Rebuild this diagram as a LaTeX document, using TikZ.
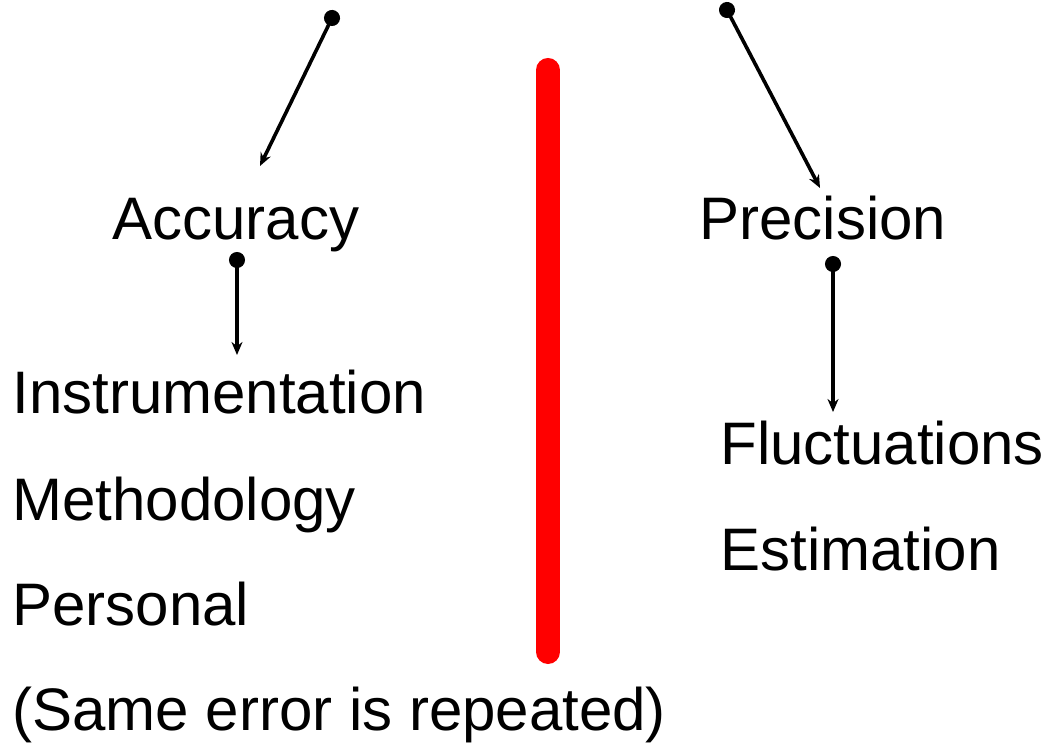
\documentclass[tikz,border=0pt]{standalone}
\usepackage{fontspec}
\setmainfont{Liberation Sans}
\usetikzlibrary{arrows.meta}

\tikzset{
  word/.style={anchor=base west,inner sep=0pt,font=\fontsize{30}{36}\selectfont},
  conn/.style={line width=1.8pt,{Circle[length=8pt]}-{Stealth[length=6.5pt,width=5.5pt]},shorten <=-4pt}
}

\begin{document}
\begin{tikzpicture}[x=0.5pt,y=-0.5pt]
\useasboundingbox (0,0) rectangle (1047,747);
\node[word] (acc) at (112,240) {Accuracy};
\node[word] (prec) at (699,240) {Precision};
\node[word] (instr) at (12,414) {Instrumentation};
\node[word] (meth) at (12,520) {Methodology};
\node[word] (pers) at (12,625) {Personal};
\node[word] (same) at (12,730) {(Same error is repeated)};
\node[word] (fluc) at (720,465) {Fluctuations};
\node[word] (est) at (720,570) {Estimation};
\coordinate (sysdot) at (332,18);
\coordinate (randot) at (727,10);
\coordinate (accdot) at (237,260);
\coordinate (precdot) at (833,264);
\coordinate (acctip) at (260,166);
\coordinate (prectip) at (820,188);
\coordinate (instrtip) at (237,355);
\coordinate (fluctip) at (833,412);
\draw[conn] (sysdot) -- (acctip);
\draw[conn] (randot) -- (prectip);
\draw[conn] (accdot) -- (instrtip);
\draw[conn] (precdot) -- (fluctip);
\coordinate (bartop) at (548,70);
\coordinate (barbot) at (548,652);
\draw[red,line width=12pt,line cap=round] (bartop) -- (barbot);
\end{tikzpicture}
\end{document}
